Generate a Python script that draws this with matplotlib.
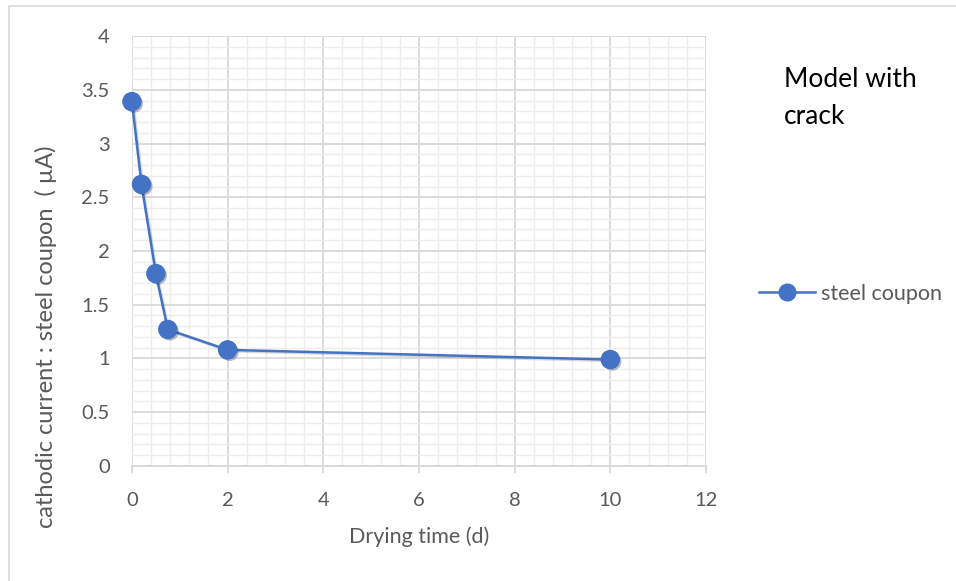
import matplotlib
matplotlib.use("Agg")
import matplotlib.pyplot as plt
import matplotlib.patheffects as pe
import numpy as np
from matplotlib.ticker import MultipleLocator

# ── data ──
drying_time = [0, 0.2, 0.5, 0.75, 2, 10]
current = [3.39, 2.62, 1.79, 1.27, 1.08, 0.99]
series_name = "steel coupon"

BLUE = "#4472C4"
GREY_TXT = "#595959"

plt.rcParams["font.family"] = ["Lato", "DejaVu Sans"]

fig = plt.figure(figsize=(9.56, 5.81), dpi=100)
ax = fig.add_axes([0.138, 0.198, 0.6005, 0.740])

shadow = [pe.SimplePatchShadow(offset=(1.5, -1.5), alpha=0.3), pe.Normal()]
ax.plot(drying_time, current, color=BLUE, lw=1.8, zorder=3, clip_on=False,
        path_effects=[pe.SimpleLineShadow(offset=(1, -1), alpha=0.15), pe.Normal()])
ax.plot(drying_time, current, ls="none", marker="o", ms=13, mfc=BLUE, mec=BLUE,
        zorder=4, clip_on=False, path_effects=shadow)
# legend proxy
ax.plot([], [], color=BLUE, lw=1.8, marker="o", ms=12, mfc=BLUE, mec=BLUE, label=series_name)

ax.set_xlim(0, 12)
ax.set_ylim(0, 4)
ax.xaxis.set_major_locator(MultipleLocator(2))
ax.xaxis.set_minor_locator(MultipleLocator(0.4))
ax.yaxis.set_major_locator(MultipleLocator(0.5))
ax.yaxis.set_minor_locator(MultipleLocator(0.1))
ax.yaxis.set_major_formatter(matplotlib.ticker.FuncFormatter(lambda v, p: f"{v:g}"))

ax.grid(which="major", color="#D9D9D9", lw=1.3)
ax.grid(which="minor", color="#EDEDED", lw=1.0)
ax.set_axisbelow(True)
for s in ax.spines.values():
    s.set_visible(False)
ax.spines["bottom"].set_visible(True)
ax.spines["bottom"].set_color("#D9D9D9")
ax.spines["bottom"].set_linewidth(1.3)

ax.tick_params(axis="x", which="major", length=5, color="#D9D9D9", width=1.3,
               labelsize=14.5, labelcolor=GREY_TXT, pad=14)
ax.tick_params(axis="y", which="major", length=0, labelsize=14.5, labelcolor=GREY_TXT, pad=16)
ax.tick_params(which="minor", length=0)

ax.set_xlabel("Drying time (d)", fontsize=15.5, color=GREY_TXT, labelpad=12)
ax.set_ylabel("cathodic current : steel coupon  ( \u00b5A)", fontsize=17, color=GREY_TXT)
ax.yaxis.set_label_coords(-0.13, 0.30)

fig.text(0.82, 0.832, "Model with\ncrack", fontsize=19, color="black", ha="left", va="center",
         linespacing=1.6)

leg = ax.legend(loc="center left", bbox_to_anchor=(1.058, 0.40), frameon=False,
                fontsize=15.5, handlelength=2.6, handletextpad=0.3, labelcolor=GREY_TXT)

# outer chart border (only top and left edges fall inside the picture)
fig.patches.append(plt.Rectangle((0.009, -0.1), 1.2, 1.09, transform=fig.transFigure,
                                 fill=False, edgecolor="#D9D9D9", lw=1.2))

fig.savefig("out.png", dpi=100)
